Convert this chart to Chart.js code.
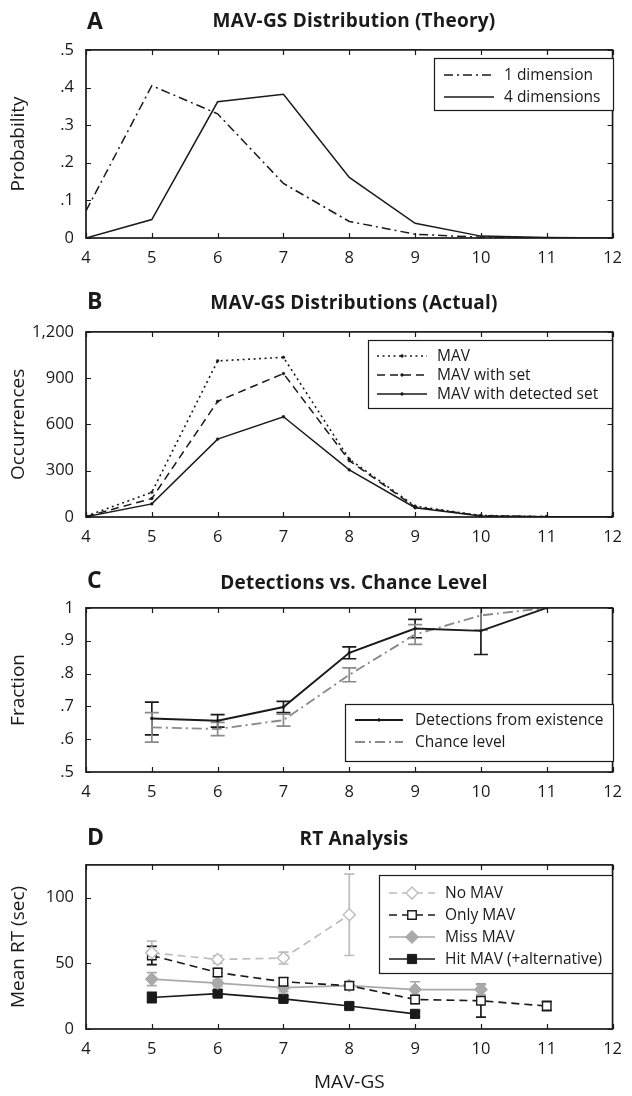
<!DOCTYPE html>
<html>
<head>
<meta charset="utf-8">
<script src="https://cdn.jsdelivr.net/npm/chart.js@4.4.0/dist/chart.umd.min.js"></script>
<style>
  body { margin: 0; background: #fff; width: 632px; height: 1096px; position: relative; overflow: hidden; font-family: "Open Sans", sans-serif; color: #1a1a1a; }
  canvas { position: absolute; left: 0; }
  .letter { position: absolute; left: 87px; font-weight: bold; font-size: 23px; line-height: 1; transform: translateY(-50%); z-index: 2; }
  .title { position: absolute; left: 354px; font-weight: bold; font-size: 19px; letter-spacing: 0.2px; line-height: 1; white-space: nowrap; transform: translate(-50%, -50%); z-index: 2; }
</style>
</head>
<body>
<div class="letter" style="top:20px">A</div>
<div class="title" style="top:20px">MAV-GS Distribution (Theory)</div>
<canvas id="chartA" width="632" height="252" style="top:28px"></canvas>

<div class="letter" style="top:300px">B</div>
<div class="title" style="top:302px">MAV-GS Distributions (Actual)</div>
<canvas id="chartB" width="632" height="252" style="top:310px"></canvas>

<div class="letter" style="top:579px">C</div>
<div class="title" style="top:582px">Detections vs. Chance Level</div>
<canvas id="chartC" width="632" height="230" style="top:586px"></canvas>

<div class="letter" style="top:836px">D</div>
<div class="title" style="top:838px">RT Analysis</div>
<canvas id="chartD" width="632" height="253" style="top:843px"></canvas>

<script>
// A - theory
const gsAll = [4, 5, 6, 7, 8, 9, 10, 11, 12];
const theoryOneDim = [0.072, 0.405, 0.330, 0.145, 0.044, 0.010, 0.002, 0, 0];
const theoryFourDim = [0, 0.049, 0.362, 0.382, 0.161, 0.039, 0.005, 0.001, 0];

// B - actual counts
const countMav = [5, 160, 1012, 1035, 375, 70, 10, 2, 0];
const countMavSet = [3, 120, 750, 930, 365, 65, 8, 2, 0];
const countMavDetected = [2, 85, 505, 650, 305, 60, 6, 1, 0];

// C - detections vs chance
const gsDetect = [5, 6, 7, 8, 9, 10, 11];
const detectFraction = [0.663, 0.656, 0.698, 0.863, 0.937, 0.930, 1.0];
const detectError = [0.050, 0.019, 0.017, 0.018, 0.028, 0.072, 0];
const chanceFraction = [0.636, 0.631, 0.658, 0.796, 0.919, 0.977, 1.0];
const chanceError = [0.045, 0.020, 0.018, 0.021, 0.030, 0.045, 0];

// D - RT analysis
const gsNoMav = [5, 6, 7, 8];
const rtNoMav = [58, 53, 54, 87];
const rtNoMavErr = [9, 3, 4.5, 31];
const gsOnlyMav = [5, 6, 7, 8, 9, 10, 11];
const rtOnlyMav = [56, 43, 36, 33, 22.5, 21.5, 17.5];
const rtOnlyMavErr = [7, 3, 3, 3, 3, 12.5, 3.5];
const gsMissMav = [5, 6, 7, 8, 9, 10];
const rtMissMav = [38, 35, 31.5, 33, 30, 30];
const rtMissMavErr = [5, 2.5, 3, 3, 6, 4];
const gsHitMav = [5, 6, 7, 8, 9];
const rtHitMav = [24, 27, 23, 17.5, 11.5];
const rtHitMavErr = [4, 2, 2, 2, 2];

const FONT = '"Open Sans", sans-serif';
const INK = "#1a1a1a";
Chart.defaults.font.family = FONT;
Chart.defaults.color = INK;

function pairs(xs, ys) {
  return xs.map((x, i) => ({ x: x, y: ys[i] }));
}

function marker(ctx, style, r, x, y) {
  ctx.beginPath();
  if (style === "rect") {
    const h = r * Math.SQRT1_2;
    ctx.rect(x - h, y - h, 2 * h, 2 * h);
  } else if (style === "rectRot") {
    ctx.moveTo(x - r, y); ctx.lineTo(x, y - r); ctx.lineTo(x + r, y); ctx.lineTo(x, y + r);
    ctx.closePath();
  } else {
    ctx.arc(x, y, r, 0, Math.PI * 2);
  }
  ctx.fill();
  ctx.stroke();
}

// box with inward ticks on all four sides
const frameAxes = {
  id: "frameAxes",
  afterDraw(chart) {
    const { ctx, chartArea: a, scales } = chart;
    ctx.save();
    ctx.setLineDash([]);
    ctx.strokeStyle = INK;
    ctx.lineWidth = 1.2;
    ctx.beginPath();
    scales.x.ticks.forEach((t) => {
      const px = Math.round(scales.x.getPixelForValue(t.value)) + 0.5;
      ctx.moveTo(px, a.bottom); ctx.lineTo(px, a.bottom - 5);
      ctx.moveTo(px, a.top); ctx.lineTo(px, a.top + 5);
    });
    scales.y.ticks.forEach((t) => {
      const py = Math.round(scales.y.getPixelForValue(t.value)) + 0.5;
      ctx.moveTo(a.left, py); ctx.lineTo(a.left + 5, py);
      ctx.moveTo(a.right, py); ctx.lineTo(a.right - 5, py);
    });
    ctx.stroke();
    ctx.lineWidth = 1.7;
    ctx.strokeRect(a.left, a.top, a.right - a.left, a.bottom - a.top);
    ctx.restore();
  }
};

// vertical error bars with caps, read from dataset.errors
const errorBars = {
  id: "errorBars",
  beforeDatasetsDraw(chart) {
    const { ctx, chartArea: a } = chart;
    chart.data.datasets.forEach((ds, i) => {
      if (!ds.errors) return;
      const meta = chart.getDatasetMeta(i);
      const ys = chart.scales[meta.yAxisID];
      const cap = ds.capHalf || 6;
      ctx.save();
      ctx.beginPath();
      ctx.rect(a.left, a.top - 1, a.right - a.left, a.bottom - a.top + 2);
      ctx.clip();
      ctx.setLineDash([]);
      ctx.strokeStyle = ds.errorColor || ds.borderColor;
      ctx.lineWidth = ds.errorWidth || 1.7;
      ds.errors.forEach((e, j) => {
        if (!e) return;
        const px = meta.data[j].x;
        const v = ds.data[j].y;
        const top = ys.getPixelForValue(v + e);
        const bot = ys.getPixelForValue(v - e);
        ctx.beginPath();
        ctx.moveTo(px, top); ctx.lineTo(px, bot);
        ctx.moveTo(px - cap, top); ctx.lineTo(px + cap, top);
        ctx.moveTo(px - cap, bot); ctx.lineTo(px + cap, bot);
        ctx.stroke();
      });
      ctx.restore();
    });
  }
};

// framed legend inside the plot
const boxLegend = {
  id: "boxLegend",
  afterDraw(chart, args, opts) {
    if (!opts.box) return;
    const { ctx } = chart;
    const b = opts.box;
    ctx.save();
    ctx.fillStyle = "#fff";
    ctx.fillRect(b.left, b.top, b.width, b.height);
    ctx.strokeStyle = INK;
    ctx.lineWidth = 1.2;
    ctx.setLineDash([]);
    ctx.strokeRect(b.left + 0.5, b.top + 0.5, b.width, b.height);
    ctx.font = "15.5px " + FONT;
    ctx.textBaseline = "middle";
    chart.data.datasets.forEach((ds, i) => {
      const y = b.top + opts.firstRow + i * opts.rowGap;
      const x0 = b.left + opts.sampleStart;
      const x1 = x0 + opts.sampleLen;
      ctx.strokeStyle = ds.borderColor;
      ctx.lineWidth = ds.borderWidth;
      ctx.setLineDash(ds.borderDash || []);
      ctx.beginPath(); ctx.moveTo(x0, y); ctx.lineTo(x1, y); ctx.stroke();
      ctx.setLineDash([]);
      if (ds.pointRadius > 0) {
        ctx.fillStyle = ds.pointBackgroundColor || ds.borderColor;
        ctx.strokeStyle = ds.pointBorderColor || ds.borderColor;
        ctx.lineWidth = ds.pointBorderWidth || 1;
        marker(ctx, ds.pointStyle, ds.pointRadius, (x0 + x1) / 2, y);
      }
      ctx.fillStyle = INK;
      ctx.fillText(ds.label, b.left + opts.textStart, y + 1);
    });
    ctx.restore();
  }
};

function makeChart(id, cfg) {
  return new Chart(document.getElementById(id), {
    type: "line",
    data: { datasets: cfg.datasets },
    plugins: [errorBars, frameAxes, boxLegend],
    options: {
      responsive: false,
      animation: false,
      events: [],
      layout: { padding: { top: 20, right: 9, left: 0, bottom: 0 } },
      plugins: { legend: { display: false }, tooltip: { enabled: false }, boxLegend: cfg.legend },
      scales: {
        x: {
          type: "linear", min: 4, max: 12,
          grid: { display: false, drawTicks: false },
          border: { display: false },
          ticks: { stepSize: 1, padding: 10, maxRotation: 0, autoSkip: false, color: INK, font: { size: 16.5 } },
          title: cfg.xTitle || { display: false },
          afterFit: (s) => { s.height = cfg.xHeight; }
        },
        y: {
          min: cfg.yMin, max: cfg.yMax,
          grid: { display: false, drawTicks: false },
          border: { display: false },
          ticks: { stepSize: cfg.yStep, padding: 12, color: INK, font: { size: 16.5 }, callback: cfg.yFormat, includeBounds: false },
          title: { display: true, text: cfg.yTitle, color: INK, font: { size: 19 }, padding: { top: 7, bottom: 0 } },
          afterFit: (s) => { s.width = 86; }
        }
      }
    }
  });
}

const decimal = (v) => (Math.abs(v) < 1e-9 ? "0" : Math.abs(v - 1) < 1e-9 ? "1" : v.toFixed(1).replace(/^0/, ""));

makeChart("chartA", {
  yMin: 0, yMax: 0.5, yStep: 0.1, yFormat: decimal, yTitle: "Probability", xHeight: 42,
  legend: { box: { left: 434, top: 30, width: 179, height: 52 }, firstRow: 17, rowGap: 22, sampleStart: 10, sampleLen: 50, textStart: 70 },
  datasets: [
    { label: "1 dimension", data: pairs(gsAll, theoryOneDim), borderColor: INK, borderWidth: 1.5, borderDash: [9, 4, 2, 4], pointRadius: 0, tension: 0 },
    { label: "4 dimensions", data: pairs(gsAll, theoryFourDim), borderColor: INK, borderWidth: 1.5, pointRadius: 0, tension: 0 }
  ]
});

makeChart("chartB", {
  yMin: 0, yMax: 1200, yStep: 300, yFormat: (v) => v.toLocaleString("en-US"), yTitle: "Occurrences", xHeight: 45,
  legend: { box: { left: 368, top: 30, width: 244, height: 68 }, firstRow: 16, rowGap: 19, sampleStart: 9, sampleLen: 50, textStart: 69 },
  datasets: [
    { label: "MAV", data: pairs(gsAll, countMav), borderColor: INK, borderWidth: 1.6, borderDash: [2, 3.5], pointRadius: 1.4, pointBackgroundColor: INK, pointBorderWidth: 0.5, tension: 0 },
    { label: "MAV with set", data: pairs(gsAll, countMavSet), borderColor: INK, borderWidth: 1.5, borderDash: [8, 5], pointRadius: 1.4, pointBackgroundColor: INK, pointBorderWidth: 0.5, tension: 0 },
    { label: "MAV with detected set", data: pairs(gsAll, countMavDetected), borderColor: INK, borderWidth: 1.5, pointRadius: 1.4, pointBackgroundColor: INK, pointBorderWidth: 0.5, tension: 0 }
  ]
});

makeChart("chartC", {
  yMin: 0.5, yMax: 1, yStep: 0.1, yFormat: decimal, yTitle: "Fraction", xHeight: 44,
  legend: { box: { left: 345, top: 118, width: 268, height: 57 }, firstRow: 16, rowGap: 22, sampleStart: 10, sampleLen: 48, textStart: 70 },
  datasets: [
    { label: "Detections from existence", data: pairs(gsDetect, detectFraction), errors: detectError, capHalf: 7, borderColor: INK, borderWidth: 1.9, pointRadius: 1.4, pointBackgroundColor: INK, pointBorderWidth: 0.5, tension: 0 },
    { label: "Chance level", data: pairs(gsDetect, chanceFraction), errors: chanceError, capHalf: 7, borderColor: "#8a8a8a", borderWidth: 1.9, borderDash: [10, 4, 2, 4], pointRadius: 0, tension: 0 }
  ]
});

makeChart("chartD", {
  yMin: 0, yMax: 125, yStep: 50, yFormat: (v) => String(v), yTitle: "Mean RT (sec)", xHeight: 67,
  xTitle: { display: true, text: "MAV-GS", color: INK, font: { size: 19 }, padding: { top: 4, bottom: 2 } },
  legend: { box: { left: 379, top: 32, width: 233, height: 98 }, firstRow: 18, rowGap: 22, sampleStart: 10, sampleLen: 46, textStart: 66 },
  datasets: [
    { label: "No MAV", data: pairs(gsNoMav, rtNoMav), errors: rtNoMavErr, capHalf: 5, borderColor: "#bcbcbc", borderWidth: 1.7, borderDash: [8, 5], pointStyle: "rectRot", pointRadius: 6, pointBackgroundColor: "#fff", pointBorderColor: "#bcbcbc", pointBorderWidth: 1.4, tension: 0 },
    { label: "Only MAV", data: pairs(gsOnlyMav, rtOnlyMav), errors: rtOnlyMavErr, capHalf: 5, borderColor: INK, borderWidth: 1.7, borderDash: [8, 5], pointStyle: "rect", pointRadius: 6, pointBackgroundColor: "#fff", pointBorderColor: INK, pointBorderWidth: 1.4, tension: 0 },
    { label: "Miss MAV", data: pairs(gsMissMav, rtMissMav), errors: rtMissMavErr, capHalf: 5, borderColor: "#a9a9a9", borderWidth: 1.7, pointStyle: "rectRot", pointRadius: 6.5, pointBackgroundColor: "#a9a9a9", pointBorderColor: "#a9a9a9", pointBorderWidth: 1, tension: 0 },
    { label: "Hit MAV (+alternative)", data: pairs(gsHitMav, rtHitMav), errors: rtHitMavErr, capHalf: 5, borderColor: INK, borderWidth: 1.7, pointStyle: "rect", pointRadius: 6.5, pointBackgroundColor: INK, pointBorderColor: INK, pointBorderWidth: 1, tension: 0 }
  ]
});
</script>
</body>
</html>
